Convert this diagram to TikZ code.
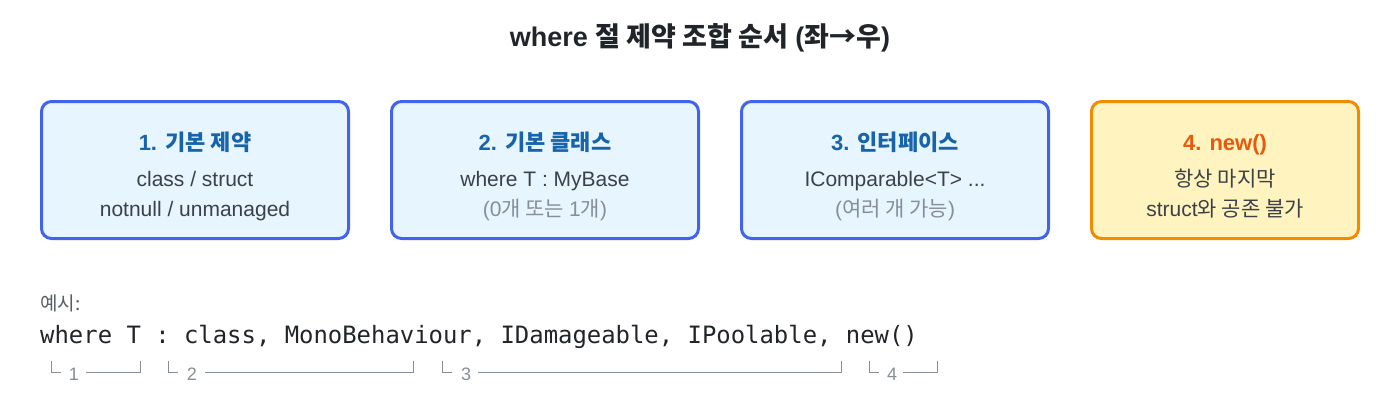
\documentclass[tikz,border=0pt]{standalone}
\usepackage{fontspec}
\setmainfont{Liberation Sans}
\newfontfamily\ko{Noto Sans CJK KR}
\newfontfamily\codefont{DejaVu Sans Mono}

\definecolor{boxblue}{HTML}{4263EB}
\definecolor{boxfill}{HTML}{E7F5FF}
\definecolor{headblue}{HTML}{1864AB}
\definecolor{boxorange}{HTML}{F08C00}
\definecolor{orangefill}{HTML}{FFF3BF}
\definecolor{headorange}{HTML}{E8590C}
\definecolor{bodytext}{HTML}{3B4148}
\definecolor{subtext}{HTML}{868E96}
\definecolor{titletext}{HTML}{212529}

\tikzset{
  card/.style={draw=boxblue, fill=boxfill, line width=3pt, rounded corners=10pt,
    minimum width=307pt, minimum height=137pt, inner sep=0},
  cardnew/.style={card, draw=boxorange, fill=orangefill, minimum width=267pt},
  head/.style={font=\fontsize{22}{26}\selectfont\bfseries, text=headblue, inner sep=0, anchor=base},
  body/.style={font=\fontsize{21}{25}\selectfont, text=bodytext, inner sep=0, anchor=base},
  note/.style={body, text=subtext},
  brace/.style={draw=subtext, line width=1pt},
  bracelabel/.style={font=\fontsize{18}{20}\selectfont, text=subtext, inner sep=0, anchor=base},
}

\begin{document}
\begin{tikzpicture}[x=1pt, y=-1pt]
        \useasboundingbox (0, 0) rectangle (1400, 400);

        \node[font=\fontsize{27}{31}\selectfont\bfseries, text=titletext, anchor=base, inner sep=0] (title) at (700, 46)
            {where {\ko 절 제약 조합 순서} ({\ko 좌→우})};

        % constraint boxes
        \node[card] (box1) at (195, 170) {};
        \node[card] (box2) at (545, 170) {};
        \node[card] (box3) at (895, 170) {};
        \node[cardnew] (box4) at (1225, 170) {};

        \node[head] (h1) at (195, 150) {1. {\ko 기본 제약}};
        \node[body] (t1a) at (195, 186) {class / struct};
        \node[body] (t1b) at (195, 216.5) {notnull / unmanaged};

        \node[head] (h2) at (545, 150) {2. {\ko 기본 클래스}};
        \node[body] (t2a) at (545, 186) {where T : MyBase};
        \node[note] (t2b) at (545, 216.5) {(0{\ko 개 또는 }1{\ko 개})};

        \node[head] (h3) at (895, 150) {3. {\ko 인터페이스}};
        \node[body] (t3a) at (895, 186) {IComparable<T> ...};
        \node[note] (t3b) at (895, 216.5) {({\ko 여러 개 가능})};

        \node[head, text=headorange] (h4) at (1225, 150) {4. new()};
        \node[body] (t4a) at (1225, 186) {\ko 항상 마지막};
        \node[body] (t4b) at (1225, 216.5) {struct{\ko 와 공존 불가}};

        % example
        \node[font=\fontsize{19}{22}\selectfont, text=bodytext!85, anchor=base west, inner sep=0] (ex) at (40, 310) {\ko 예시:};
        \node[font=\fontsize{23.9}{28}\codefont, text=titletext, anchor=base west, inner sep=0] (code) at (40, 343)
            {where T : class, MonoBehaviour, IDamageable, IPoolable, new()};

        % brackets under the code
        \draw[brace] (51, 361)--(51, 372)--(61, 372);
        \node[bracelabel] (n1) at (74, 380) {1};
        \draw[brace] (86, 372)--(140, 372)--(140, 361);

        \draw[brace] (168, 361)--(168, 372)--(178, 372);
        \node[bracelabel] (n2) at (192, 380) {2};
        \draw[brace] (205, 372)--(413, 372)--(413, 361);

        \draw[brace] (442, 361)--(442, 372)--(452, 372);
        \node[bracelabel] (n3) at (466, 380) {3};
        \draw[brace] (478, 372)--(841, 372)--(841, 361);

        \draw[brace] (869, 361)--(869, 372)--(879, 372);
        \node[bracelabel] (n4) at (892, 380) {4};
        \draw[brace] (903, 372)--(937, 372)--(937, 361);
    \end{tikzpicture}
\end{document}
